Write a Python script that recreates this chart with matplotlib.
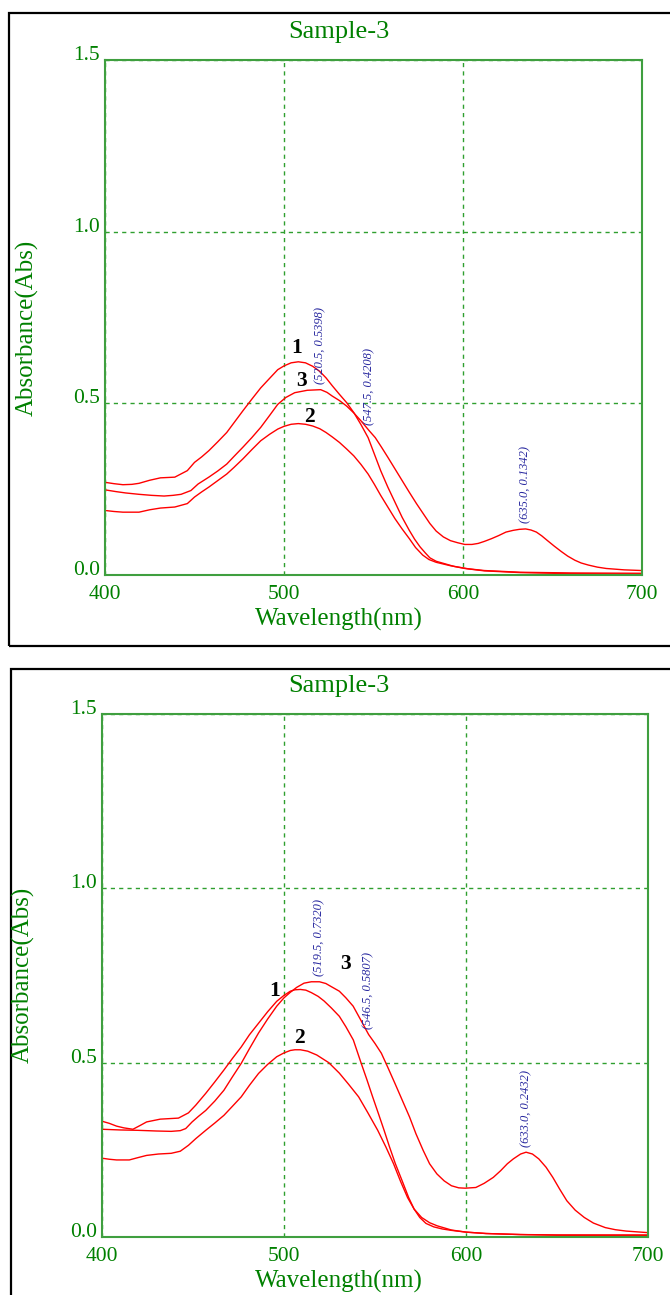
import numpy as np
import matplotlib
matplotlib.use('Agg')
import matplotlib.pyplot as plt
from matplotlib.patches import Rectangle

#region Spectra, panel 1
p1_wl_1 = [400, 405, 410, 415, 419, 425, 431, 439, 446, 450, 454, 458, 463, 468, 472, 477, 482, 487, 492, 496.5, 500,
           504, 508, 512, 516, 520, 523.5, 527, 531, 535, 539, 543, 547, 550.5, 554, 558, 562, 566, 570, 573, 576,
           579, 581.5, 585, 589, 595, 601, 612, 632, 660, 700]
p1_abs_1 = [0.270, 0.266, 0.263, 0.264, 0.267, 0.276, 0.283, 0.285, 0.304, 0.328, 0.344, 0.362, 0.388, 0.415, 0.443,
            0.478, 0.512, 0.545, 0.573, 0.598, 0.609, 0.618, 0.621, 0.618, 0.608, 0.593, 0.574, 0.551, 0.526, 0.502,
            0.473, 0.438, 0.400, 0.352, 0.304, 0.256, 0.212, 0.168, 0.130, 0.104, 0.082, 0.064, 0.050, 0.040, 0.034,
            0.025, 0.019, 0.012, 0.007, 0.004, 0.003]
p1_wl_2 = [400, 405, 410, 419, 425, 431, 439, 446, 450, 454, 458, 463, 468, 472, 477, 482, 487, 492, 496.5, 500, 504,
           508, 512, 516, 520, 523.5, 527, 531, 535, 539, 543, 547, 550.5, 554, 558, 562, 566, 570, 573.5, 577.5, 581,
           585, 593, 603, 612, 632, 660, 700]
p1_abs_2 = [0.188, 0.185, 0.183, 0.183, 0.190, 0.195, 0.198, 0.208, 0.227, 0.242, 0.256, 0.275, 0.294, 0.313, 0.338,
            0.365, 0.391, 0.410, 0.425, 0.433, 0.439, 0.441, 0.439, 0.434, 0.426, 0.415, 0.402, 0.386, 0.367, 0.347,
            0.322, 0.294, 0.264, 0.232, 0.198, 0.164, 0.134, 0.106, 0.080, 0.058, 0.045, 0.037, 0.027, 0.018, 0.013,
            0.008, 0.006, 0.005]
p1_wl_3 = [400, 406, 411.5, 419, 426, 433, 438, 442.5, 448, 452, 458, 463, 468, 472, 477, 482, 487, 492, 496.5, 501,
           506, 513, 520.5, 524, 527, 531, 535, 539, 543, 547.5, 551, 554.5, 558, 562, 566, 570, 574, 578, 581.5, 585,
           589, 593, 597, 601, 605, 608.5, 612, 616, 620, 624, 628, 631.5, 635, 638, 641, 644, 647, 651, 655, 658.5,
           662.5, 666, 670, 675, 680, 690, 700]
p1_abs_3 = [0.248, 0.243, 0.239, 0.235, 0.232, 0.230, 0.232, 0.235, 0.246, 0.265, 0.285, 0.303, 0.323, 0.345, 0.372,
            0.400, 0.430, 0.465, 0.497, 0.517, 0.531, 0.538, 0.5398, 0.532, 0.521, 0.508, 0.492, 0.472, 0.449, 0.4208,
            0.400, 0.372, 0.343, 0.309, 0.275, 0.241, 0.208, 0.177, 0.150, 0.128, 0.111, 0.100, 0.094, 0.089, 0.089,
            0.092, 0.098, 0.106, 0.115, 0.125, 0.130, 0.133, 0.1342, 0.131, 0.125, 0.114, 0.101, 0.084, 0.068, 0.055,
            0.043, 0.035, 0.029, 0.023, 0.019, 0.015, 0.013]
p1_peaks = [(520.5, 0.5398), (547.5, 0.4208), (635.0, 0.1342)]
p1_tags = [('1', 507, 0.661), ('3', 509.5, 0.565), ('2', 514, 0.46)]
#endregion

#region Spectra, panel 2
p2_wl_1 = [400, 404, 408, 412, 417, 421, 424.5, 432, 442, 447.5, 451.5, 457, 462, 467, 471.5, 476.5, 481, 486, 491,
           496, 500, 503.5, 506, 509, 512, 515, 518.8, 522, 526, 530.4, 534, 538.1, 542.3, 545.5, 548.7, 552, 555,
           558, 561.2, 565, 568.5, 571.5, 574.6, 578, 582.3, 587, 592, 600, 611, 630, 650, 700]
p2_abs_1 = [0.332, 0.326, 0.318, 0.313, 0.309, 0.320, 0.330, 0.338, 0.341, 0.356, 0.378, 0.412, 0.445, 0.479, 0.511,
            0.545, 0.580, 0.613, 0.646, 0.676, 0.693, 0.705, 0.709, 0.710, 0.708, 0.701, 0.690, 0.677, 0.657, 0.633,
            0.603, 0.565, 0.500, 0.452, 0.402, 0.352, 0.306, 0.258, 0.210, 0.160, 0.113, 0.080, 0.056, 0.039, 0.029,
            0.023, 0.019, 0.014, 0.010, 0.007, 0.006, 0.006]
p2_wl_2 = [400, 404, 408, 415, 420, 424.5, 431, 438, 443, 447.5, 451.5, 457, 462, 467, 471.5, 476.5, 481, 486, 491,
           496, 500, 503.5, 506, 509, 513, 518, 521, 524.6, 530.4, 535.5, 541, 546, 551.5, 556, 560.2, 564, 567.9,
           571.5, 575.6, 580, 584.2, 592, 600, 611, 630, 650, 700]
p2_abs_2 = [0.226, 0.223, 0.221, 0.221, 0.228, 0.234, 0.238, 0.240, 0.246, 0.263, 0.282, 0.306, 0.327, 0.349, 0.374,
            0.402, 0.435, 0.469, 0.495, 0.517, 0.528, 0.535, 0.537, 0.537, 0.533, 0.522, 0.512, 0.500, 0.470, 0.438,
            0.402, 0.357, 0.306, 0.258, 0.210, 0.160, 0.113, 0.080, 0.056, 0.041, 0.032, 0.020, 0.014, 0.010, 0.007,
            0.005, 0.004]
p2_wl_3 = [400, 410, 419.5, 430, 438, 443, 446, 449.5, 453, 457, 462, 467, 471.5, 476.5, 481, 486, 491, 496, 500,
           503.5, 507, 511, 515, 519.5, 523, 526, 530.4, 534, 538, 542, 546.5, 550, 553.5, 557, 561, 565, 569, 572.5,
           576.5, 580, 584, 588, 592, 596, 599.6, 605.4, 610, 615, 619, 622.7, 626, 630, 633, 636.5, 640, 644, 647.7,
           651.5, 655.4, 660, 665, 670, 676.5, 682, 688, 700]
p2_abs_3 = [0.309, 0.307, 0.306, 0.304, 0.303, 0.305, 0.311, 0.330, 0.346, 0.363, 0.390, 0.421, 0.458, 0.498, 0.540,
            0.585, 0.625, 0.662, 0.686, 0.702, 0.716, 0.728, 0.732, 0.7320, 0.727, 0.718, 0.705, 0.686, 0.662, 0.624,
            0.5807, 0.555, 0.527, 0.487, 0.440, 0.392, 0.344, 0.296, 0.248, 0.210, 0.181, 0.161, 0.147, 0.141, 0.140,
            0.142, 0.154, 0.171, 0.190, 0.210, 0.224, 0.238, 0.2432, 0.238, 0.224, 0.200, 0.171, 0.137, 0.104, 0.077,
            0.056, 0.040, 0.027, 0.021, 0.017, 0.0125]
p2_peaks = [(519.5, 0.7320), (546.5, 0.5807), (633.0, 0.2432)]
p2_tags = [('1', 494.8, 0.705), ('3', 533.7, 0.782), ('2', 508.3, 0.57)]
#endregion

x_ticks = [400, 500, 600, 700]
y_ticks = [0.0, 0.5, 1.0, 1.5]
x_ticklabels = ['400', '500', '600', '700']
y_ticklabels = ['0.0', '0.5', '1.0', '1.5']

plt.rcParams['font.family'] = 'Liberation Serif'
TXT = '#008000'
FRAME = '#3f9f3f'
W, H = 670, 1295

fig = plt.figure(figsize=(W/100, H/100), dpi=100)


def px_box(x0, y0, x1, y1):
    # pixel box (top-left origin) -> figure fraction [left, bottom, width, height]
    return [x0/W, 1 - y1/H, (x1 - x0)/W, (y1 - y0)/H]


def draw_panel(box, frame, title_y, xlab_y, ylab_xy, curves, peaks, tags):
    # black frame round the panel (runs off the right edge)
    fx, ftop, fbot = frame
    fig.patches.append(Rectangle((fx/W, 1 - fbot/H), 1.2, (fbot - ftop)/H,
                                 transform=fig.transFigure, fill=False, edgecolor='black', lw=1.6))
    ax = fig.add_axes(box)
    for wl, ab in curves:
        ax.plot(wl, ab, color='red', lw=1.0)
    ax.set_xlim(400, 700)
    ax.set_ylim(0, 1.5)
    ax.set_xticks(x_ticks, x_ticklabels)
    ax.set_yticks(y_ticks, y_ticklabels)
    ax.tick_params(length=0, labelsize=15.5, labelcolor=TXT)
    ax.tick_params(axis='x', pad=7.5)
    ax.tick_params(axis='y', pad=3.5)
    for lbl in ax.get_yticklabels():
        lbl.set_verticalalignment('baseline')
    ax.grid(True, color='#2f9f2f', linestyle=(0, (3, 3)), lw=1.0)
    for s in ax.spines.values():
        s.set_color(FRAME)
        s.set_linewidth(1.5)
    # peak readouts
    for wl, ab in peaks:
        ax.annotate('(%.1f, %.4f)' % (wl, ab), xy=(wl, ab), xytext=(0, 4), textcoords='offset points',
                    rotation=90, ha='center', va='bottom', fontsize=9, style='italic', color='#2a2aa0')
    # curve numbers
    for t, wl, ab in tags:
        ax.text(wl, ab, t, ha='center', va='center', fontsize=15.5, fontweight='bold', color='black')
    cx = 339/W
    fig.text(cx, 1 - title_y/H, 'Sample-3', ha='center', va='center', fontsize=19, color=TXT)
    fig.text(cx, 1 - xlab_y/H, 'Wavelength(nm)', ha='center', va='center', fontsize=18, color=TXT)
    fig.text(ylab_xy[0]/W, 1 - ylab_xy[1]/H, 'Absorbance(Abs)', rotation=90, ha='center', va='center',
             fontsize=18, color=TXT)
    return ax


ax1 = draw_panel(px_box(105, 60, 642, 575), (9, 13, 646), 32, 619, (27, 328),
                 [(p1_wl_1, p1_abs_1), (p1_wl_2, p1_abs_2), (p1_wl_3, p1_abs_3)], p1_peaks, p1_tags)
ax2 = draw_panel(px_box(102, 714, 648, 1237), (11, 669, 1320), 686, 1281, (23, 975),
                 [(p2_wl_1, p2_abs_1), (p2_wl_2, p2_abs_2), (p2_wl_3, p2_abs_3)], p2_peaks, p2_tags)

fig.savefig('out.png', dpi=100)
